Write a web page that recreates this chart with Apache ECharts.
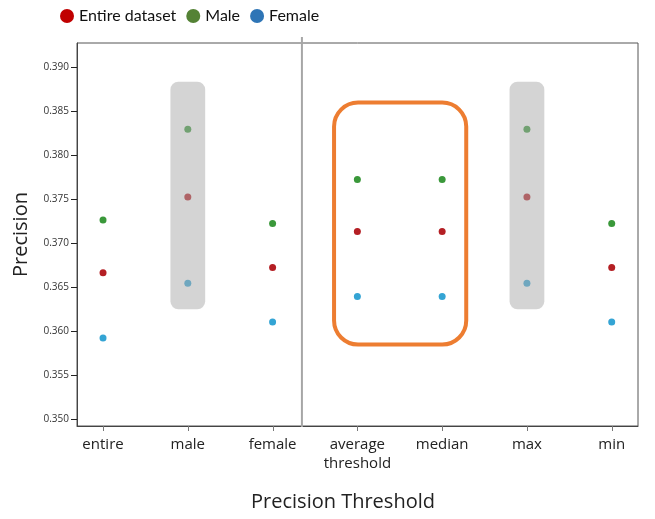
<!DOCTYPE html>
<html>
<head>
<meta charset="utf-8">
<script src="https://cdn.jsdelivr.net/npm/echarts@6/dist/echarts.min.js"></script>
<style>
  html, body { margin: 0; padding: 0; background: #fff; }
  #chart { width: 655px; height: 519px; }
</style>
</head>
<body>
<div id="chart"></div>
<script>
// categories along the x axis
var categories = ['entire', 'male', 'female', 'average\nthreshold', 'median', 'max', 'min']

// precision per category
var entireVals = [0.3666, 0.3752, 0.3672, 0.3713, 0.3713, 0.3752, 0.3672]
var maleVals = [0.3726, 0.3829, 0.3722, 0.3772, 0.3772, 0.3829, 0.3722]
var femaleVals = [0.3592, 0.3654, 0.3610, 0.3639, 0.3639, 0.3654, 0.3610]

var yTicks = [0.350, 0.355, 0.360, 0.365, 0.370, 0.375, 0.380, 0.385, 0.390]
var xTicks = categories.map(function (c, i) { return i })

var font = "'Open Sans', 'Noto Sans', sans-serif"
var legendFont = "Lato, 'Open Sans', sans-serif"

var toPoints = function (vals) {
  return vals.map(function (v, i) { return [i, v] })
}

var myChart = echarts.init(document.getElementById('chart'), null, { renderer: 'canvas' })

var option = {
  animation: false,
  backgroundColor: '#fff',
  legend: {
    left: 55,
    top: 3,
    icon: 'circle',
    itemWidth: 14,
    itemHeight: 14,
    itemGap: 10,
    textStyle: { fontFamily: legendFont, fontSize: 16, color: '#111' },
    data: [
      { name: 'Entire dataset', itemStyle: { color: '#C00000' } },
      { name: 'Male', itemStyle: { color: '#548235' } },
      { name: 'Female', itemStyle: { color: '#2E75B6' } }
    ]
  },
  grid: {
    left: 77,
    right: 17,
    top: 43,
    bottom: 93,
    containLabel: false,
    outerBoundsMode: 'none',
    show: true,
    borderColor: '#555',
    borderWidth: 1
  },
  xAxis: {
    type: 'value',
    min: -0.307,
    max: 6.31,
    splitNumber: 6,
    splitLine: { show: false },
    axisLine: { show: true, onZero: false, lineStyle: { color: '#444' } },
    axisTick: { show: false },
    axisLabel: {
      customValues: xTicks,
      formatter: function (v) { return categories[Math.round(v)] },
      fontFamily: font,
      fontSize: 15,
      lineHeight: 19,
      color: '#222',
      margin: 9
    },
    name: 'Precision Threshold',
    nameLocation: 'middle',
    nameGap: 66,
    nameTextStyle: { fontFamily: font, fontSize: 20, color: '#222', padding: [0, 29, 0, 0] }
  },
  yAxis: {
    type: 'value',
    min: 0.3492,
    max: 0.3927,
    splitNumber: 8,
    splitLine: { show: false },
    axisLine: { show: true, onZero: false, lineStyle: { color: '#444' } },
    axisTick: { show: false },
    axisLabel: {
      customValues: yTicks,
      formatter: function (v) { return v.toFixed(3) },
      fontFamily: font,
      fontSize: 10,
      color: '#333',
      margin: 8
    },
    name: 'Precision',
    nameLocation: 'middle',
    nameGap: 46,
    nameTextStyle: { fontFamily: font, fontSize: 20, color: '#222' }
  },
  series: [
    {
      name: 'Entire dataset',
      type: 'scatter',
      symbolSize: 7,
      itemStyle: { color: '#b41f24', opacity: 1 },
      data: toPoints(entireVals)
    },
    {
      name: 'Male',
      type: 'scatter',
      symbolSize: 7,
      itemStyle: { color: '#3a983a', opacity: 1 },
      data: toPoints(maleVals)
    },
    {
      name: 'Female',
      type: 'scatter',
      symbolSize: 7,
      itemStyle: { color: '#34a4d4', opacity: 1 },
      data: toPoints(femaleVals)
    }
  ]
}

myChart.setOption(option)

// annotations are placed in data space and converted through the axes
var px = function (x, y) { return myChart.convertToPixel({ gridIndex: 0 }, [x, y]) }
var graphics = []
var yMin = option.yAxis.min
var xMin = option.xAxis.min

// tick marks (only at the labelled values, like the original)
yTicks.forEach(function (v) {
  var p = px(xMin, v)
  var y = Math.round(p[1]) + 0.5
  graphics.push({
    type: 'line', z: 5,
    shape: { x1: p[0] - 6, y1: y, x2: p[0], y2: y },
    style: { stroke: '#222', lineWidth: 1 }
  })
})
xTicks.forEach(function (v) {
  var p = px(v, yMin)
  var x = Math.round(p[0]) + 0.5
  graphics.push({
    type: 'line', z: 5,
    shape: { x1: x, y1: p[1], x2: x, y2: p[1] + 5 },
    style: { stroke: '#777', lineWidth: 1 }
  })
})

// grey highlight behind "male" and "max"
;[1, 5].forEach(function (c) {
  var a = px(c - 0.205, 0.3883)
  var b = px(c + 0.205, 0.36245)
  graphics.push({
    type: 'rect',
    z: 10,
    shape: { x: a[0], y: a[1], width: b[0] - a[0], height: b[1] - a[1], r: 8 },
    style: { fill: 'rgba(169,169,169,0.5)' }
  })
})

// orange frame around average / median
var o1 = px(3 - 0.275, 0.38594)
var o2 = px(4 + 0.284, 0.35845)
graphics.push({
  type: 'rect',
  z: 10,
  shape: { x: o1[0], y: o1[1], width: o2[0] - o1[0], height: o2[1] - o1[1], r: 24 },
  style: { fill: 'none', stroke: '#ED7D31', lineWidth: 4 }
})

// separator between group splits and threshold methods
var s = px(2.346, yMin)
graphics.push({
  type: 'line',
  z: 10,
  shape: { x1: s[0], y1: 37, x2: s[0], y2: 427 },
  style: { stroke: '#a6a6a6', lineWidth: 2 }
})

myChart.setOption({ graphic: graphics })
</script>
</body>
</html>
